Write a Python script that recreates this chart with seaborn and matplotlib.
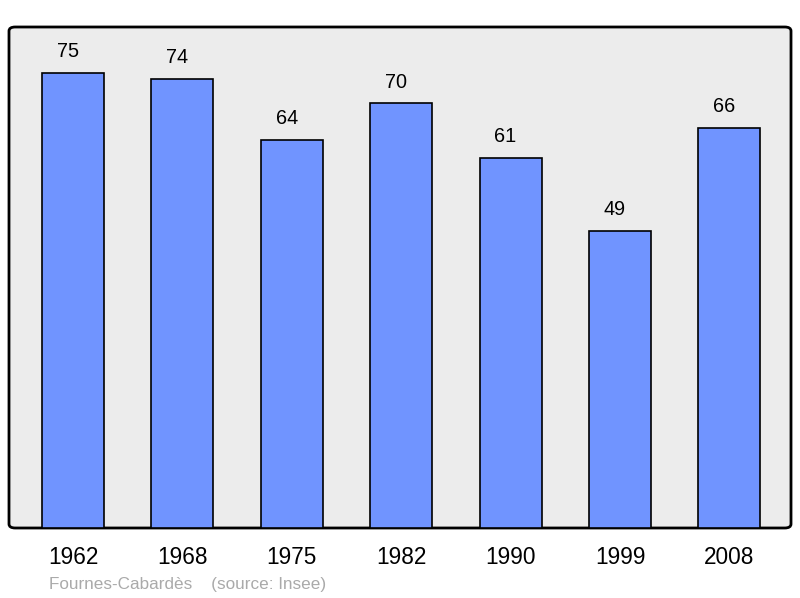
import pandas as pd
import numpy as np
import matplotlib
matplotlib.use('Agg')
import matplotlib.pyplot as plt
import seaborn as sns
from matplotlib.patches import FancyBboxPatch

# Population data
years = ['1962', '1968', '1975', '1982', '1990', '1999', '2008']
population = [75, 74, 64, 70, 61, 49, 66]
town = 'Fournes-Cabardès'
source = '(source: Insee)'

df = pd.DataFrame({'year': years, 'population': population})

sns.set_theme(style='white')
plt.rcParams['font.family'] = ['Liberation Sans', 'DejaVu Sans']

fig = plt.figure(figsize=(8, 5.98), dpi=100)
ax = fig.add_axes([9 / 800, 1 - 528 / 598, 782 / 800, 501 / 598])
ax.set_facecolor('none')

# Rounded frame with gray fill
frame = FancyBboxPatch((0, 0), 1, 1, boxstyle='round,pad=0,rounding_size=0.008',
                       transform=ax.transAxes, facecolor='#ececec',
                       edgecolor='black', linewidth=2, zorder=0, clip_on=False)
ax.add_patch(frame)

sns.barplot(x='year', y='population', data=df, color='#7094ff', saturation=1,
            edgecolor='black', linewidth=1.2, width=0.567, ax=ax, zorder=2)

ax.set_xlim(-0.585, 6.563)
ax.set_ylim(0, 82.6)
for s in ax.spines.values():
    s.set_visible(False)
ax.set_yticks([])
ax.set_xlabel('')
ax.set_ylabel('')
ax.tick_params(axis='x', length=0, labelsize=16.3, pad=13.2, colors='black')

for i, v in enumerate(population):
    ax.annotate(str(v), (i, v), xytext=(-3.6, 15.3), textcoords='offset points',
                ha='center', va='center', fontsize=14.3, color='black')

fig.text(49 / 800, 1 - 584 / 598, town + '    ' + source, fontsize=12.3,
         color='#aaaaaa', ha='left', va='center')

fig.savefig('out.png', dpi=100)
